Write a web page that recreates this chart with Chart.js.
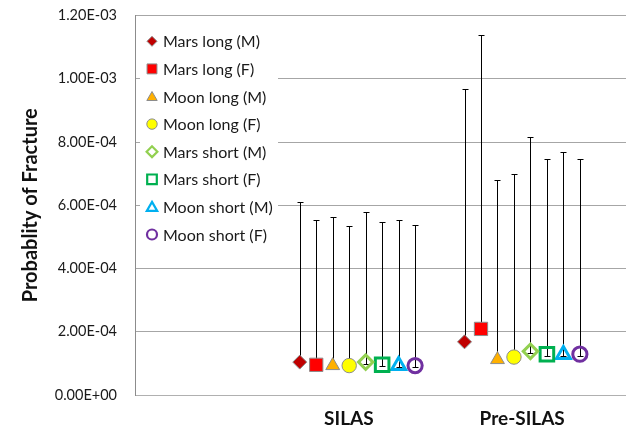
<!DOCTYPE html>
<html>
<head>
<meta charset="utf-8">
<script src="https://cdn.jsdelivr.net/npm/chart.js@4/dist/chart.umd.min.js"></script>
<style>
  html, body { margin: 0; padding: 0; background: #ffffff; }
  #c { display: block; }
</style>
</head>
<body>
<canvas id="c" width="626" height="425"></canvas>
<script>
// ---------------- DATA ----------------
const categories = ["SILAS", "Pre-SILAS"];
const seriesNames = ["Mars long (M)", "Mars long (F)", "Moon long (M)", "Moon long (F)",
                     "Mars short (M)", "Mars short (F)", "Moon short (M)", "Moon short (F)"];
// mean probability of fracture per series: [SILAS, Pre-SILAS]
const marsLongM   = [1.04e-4, 1.68e-4];
const marsLongF   = [0.955e-4, 2.09e-4];
const moonLongM   = [0.93e-4, 1.12e-4];
const moonLongF   = [0.93e-4, 1.20e-4];
const marsShortM  = [1.04e-4, 1.38e-4];
const marsShortF  = [0.955e-4, 1.29e-4];
const moonShortM  = [0.93e-4, 1.28e-4];
const moonShortF  = [0.93e-4, 1.29e-4];
// upper bound of error bar
const marsLongMUp  = [6.11e-4, 9.67e-4];
const marsLongFUp  = [5.54e-4, 1.139e-3];
const moonLongMUp  = [5.62e-4, 6.80e-4];
const moonLongFUp  = [5.35e-4, 6.98e-4];
const marsShortMUp = [5.79e-4, 8.17e-4];
const marsShortFUp = [5.48e-4, 7.47e-4];
const moonShortMUp = [5.54e-4, 7.69e-4];
const moonShortFUp = [5.38e-4, 7.47e-4];
// lower bound of error bar
const marsLongMLo  = [0.99e-4, 1.63e-4];
const marsLongFLo  = [0.905e-4, 2.04e-4];
const moonLongMLo  = [0.88e-4, 1.07e-4];
const moonLongFLo  = [0.88e-4, 1.15e-4];
const marsShortMLo = [0.99e-4, 1.33e-4];
const marsShortFLo = [0.905e-4, 1.24e-4];
const moonShortMLo = [0.88e-4, 1.23e-4];
const moonShortFLo = [0.88e-4, 1.24e-4];
const yTickLabels = ["0.00E+00", "2.00E-04", "4.00E-04", "6.00E-04", "8.00E-04", "1.00E-03", "1.20E-03"];
const yAxisTitle = "Probablity of Fracture";

// ---------------- STYLE / LAYOUT ----------------
const means = [marsLongM, marsLongF, moonLongM, moonLongF, marsShortM, marsShortF, moonShortM, moonShortF];
const uppers = [marsLongMUp, marsLongFUp, moonLongMUp, moonLongFUp, marsShortMUp, marsShortFUp, moonShortMUp, moonShortFUp];
const lowers = [marsLongMLo, marsLongFLo, moonLongMLo, moonLongFLo, marsShortMLo, marsShortFLo, moonShortMLo, moonShortFLo];
const catPos = [1, 2];
const labelPos = [0.948, 2];
const dodge = 0.1;
const FONT = "Lato, 'Open Sans', sans-serif";
const styles = [
  {ps: 'rectRot',  r: 7,   bg: '#C00000', bc: '#8C8C8C', bw: 1, lr: 5},
  {ps: 'rect',     r: 9.4, bg: '#FF0000', bc: '#8C8C8C', bw: 1, lr: 7},
  {ps: 'triangle', r: 8,   bg: '#FFB000', bc: '#8C8C8C', bw: 1, lr: 6},
  {ps: 'circle',   r: 7.2, bg: '#FFFF00', bc: '#8C8C8C', bw: 1, lr: 5.2},
  {ps: 'rectRot',  r: 7.2, bg: 'rgba(0,0,0,0)', bc: '#92D050', bw: 3, lr: 5.4},
  {ps: 'rect',     r: 9.6, bg: 'rgba(0,0,0,0)', bc: '#00B050', bw: 3, lr: 6.8},
  {ps: 'triangle', r: 8,   bg: 'rgba(0,0,0,0)', bc: '#00B0F0', bw: 3, lr: 6},
  {ps: 'circle',   r: 7.1, bg: 'rgba(0,0,0,0)', bc: '#7030A0', bw: 3, lr: 5}
];

const datasets = seriesNames.map((name, i) => ({
  label: name,
  data: categories.map((c, j) => ({x: catPos[j] + (i - 3.5) * dodge, y: means[i][j]})),
  pointStyle: styles[i].ps,
  pointRadius: styles[i].r,
  pointHoverRadius: styles[i].r,
  pointBackgroundColor: styles[i].bg,
  pointBorderColor: styles[i].bc,
  pointBorderWidth: styles[i].bw,
  showLine: false
}));

const errorBars = {
  id: 'errorBars',
  beforeDatasetsDraw(chart) {
    const ctx = chart.ctx, ys = chart.scales.y;
    ctx.save();
    ctx.strokeStyle = '#000000';
    ctx.lineWidth = 1;
    chart.data.datasets.forEach((ds, i) => {
      const meta = chart.getDatasetMeta(i);
      meta.data.forEach((pt, j) => {
        const x = Math.round(pt.x) + 0.5;
        const yu = Math.round(ys.getPixelForValue(uppers[i][j])) + 0.5;
        const yl = Math.round(ys.getPixelForValue(lowers[i][j])) + 0.5;
        ctx.beginPath();
        ctx.moveTo(x, yu); ctx.lineTo(x, yl);
        ctx.moveTo(x - 3, yu); ctx.lineTo(x + 3, yu);
        ctx.moveTo(x - 3, yl); ctx.lineTo(x + 3, yl);
        ctx.stroke();
      });
    });
    ctx.restore();
  }
};

const legendBox = {
  id: 'legendBox',
  beforeDatasetsDraw(chart) {
    const ctx = chart.ctx;
    ctx.save();
    ctx.fillStyle = '#ffffff';
    ctx.fillRect(140, 24, 138, 226);
    ctx.font = '16px ' + FONT;
    ctx.textBaseline = 'middle';
    ctx.textAlign = 'left';
    seriesNames.forEach((name, i) => {
      const y = 41.3 + i * 27.6;
      const s = styles[i];
      ctx.fillStyle = s.bg;
      ctx.strokeStyle = s.bc;
      ctx.lineWidth = s.bw === 3 ? 2.2 : 1;
      Chart.helpers.drawPoint(ctx, {pointStyle: s.ps, radius: s.lr, rotation: 0, borderWidth: ctx.lineWidth}, 152, y + (s.ps === 'triangle' ? 1 : 0));
      ctx.fillStyle = '#1a1a1a';
      ctx.fillText(name, 163, y + 1);
    });
    ctx.restore();
  }
};

new Chart(document.getElementById('c'), {
  type: 'scatter',
  data: {datasets},
  plugins: [errorBars, legendBox],
  options: {
    responsive: false,
    devicePixelRatio: 1,
    animation: false,
    layout: {autoPadding: false, padding: {top: 15.5, right: 0, left: 0, bottom: 0}},
    plugins: {legend: {display: false}, tooltip: {enabled: false}},
    scales: {
      x: {
        type: 'linear',
        position: 'bottom',
        min: -0.35,
        max: 2.63,
        grid: {display: false, drawTicks: true, tickLength: 12},
        border: {display: true, color: '#B0B0B0', width: 1},
        afterBuildTicks: (scale) => { scale.ticks = labelPos.map(v => ({value: v})); },
        afterFit: (scale) => { scale.height = 30; scale.paddingLeft = 0; scale.paddingRight = 0; },
        ticks: {
          autoSkip: false, maxRotation: 0, padding: 0,
          color: '#111111',
          font: {family: FONT, size: 19, weight: 'bold'},
          callback: (v) => categories[labelPos.indexOf(v)]
        }
      },
      y: {
        min: 0,
        max: 0.0012,
        grid: {color: '#A6A6A6', drawTicks: true, tickLength: 18, tickColor: 'rgba(0,0,0,0)'},
        border: {display: true, color: '#8C8C8C', width: 1},
        afterFit: (scale) => { scale.width = 135; },
        ticks: {
          stepSize: 0.0002,
          padding: 0,
          color: '#1a1a1a',
          font: {family: FONT, size: 14.5},
          callback: (v, idx) => yTickLabels[idx]
        },
        title: {
          display: true,
          text: yAxisTitle,
          color: '#111111',
          font: {family: FONT, size: 20, weight: 'bold'},
          padding: {top: 19, bottom: 0}
        }
      }
    }
  }
});
</script>
</body>
</html>
